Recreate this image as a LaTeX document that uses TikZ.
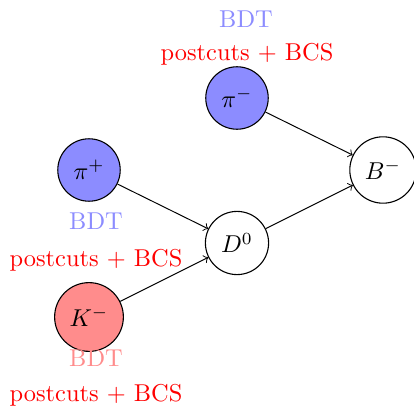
\documentclass[tikz,border=0pt]{standalone}
\begin{document}
\begin{tikzpicture}[x=0.41pt,y=-0.41pt,
  particle/.style={circle,draw,line width=0.45pt,inner sep=3.8pt},
  bluefill/.style={fill=blue!45},
  redfill/.style={fill=red!45},
  bdtblue/.style={text=blue!45},
  bdtred/.style={text=red!45},
  cuts/.style={text=red},
  decay/.style={->}]
\useasboundingbox (0,0) rectangle (414,406);
\node[particle,bluefill] (pim) at (237,98) {$\pi^-$};
\node[particle] (bm) at (383,170) {$B^-$};
\node[particle] (d0) at (237,243) {$D^0$};
\node[particle,bluefill] (pip) at (89,170) {$\pi^+$};
\node[particle,redfill] (km) at (89,317) {$K^-$};
\node[bdtblue] (bdt1) at (246,19) {BDT};
\node[cuts] (cut1) at (247,54) {postcuts + BCS};
\node[bdtblue] (bdt2) at (96,221) {BDT};
\node[cuts] (cut2) at (96,260) {postcuts + BCS};
\node[bdtred] (bdt3) at (96,358) {BDT};
\node[cuts] (cut3) at (96,395) {postcuts + BCS};
\draw[decay] (pim) -- (bm);
\draw[decay] (d0) -- (bm);
\draw[decay] (pip) -- (d0);
\draw[decay] (km) -- (d0);
\end{tikzpicture}
\end{document}
